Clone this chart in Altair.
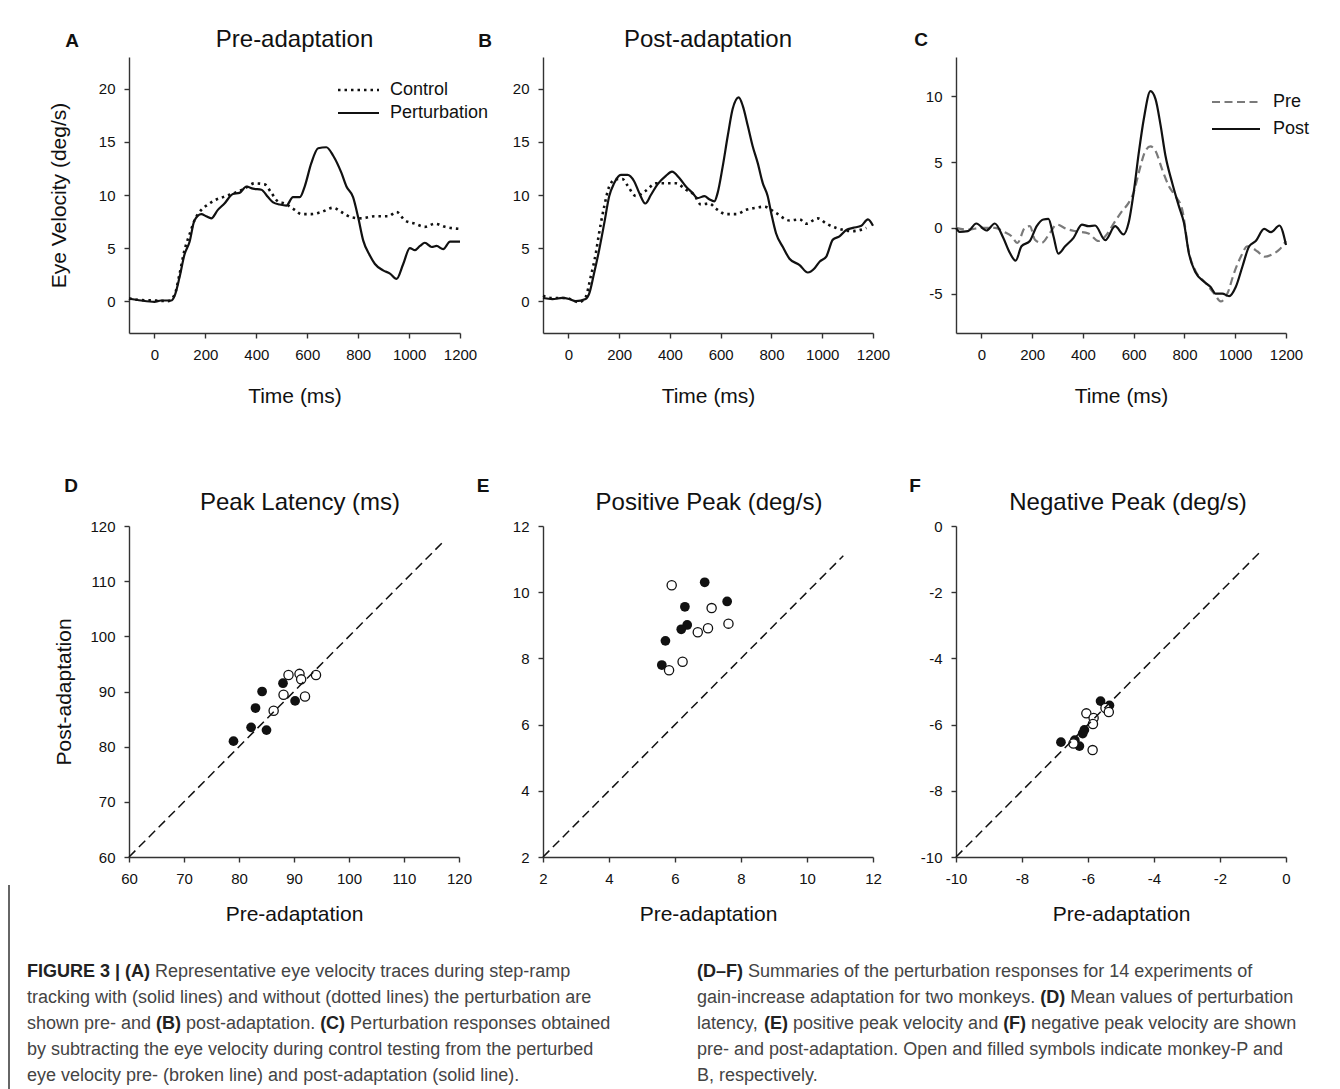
import altair as alt
import pandas as pd

FONT = "Liberation Sans"

# ---------------- data: panel A (pre-adaptation) ----------------
a_pert_t = [-100, -52, 0, 26, 66, 79, 98, 118, 138, 157, 184, 203, 223, 249, 275, 308, 334, 361, 387, 420,
            446, 466, 492, 518, 544, 571, 590, 616, 643, 675, 702, 734, 754, 780, 800, 820, 846, 866, 898, 925,
            951, 977, 1003, 1023, 1043, 1062, 1089, 1108, 1134, 1161, 1200]
a_pert_v = [0.25, 0.06, -0.06, 0.06, 0.06, 0.5, 2.2, 4.4, 5.6, 7.6, 8.2, 8.0, 7.8, 8.6, 9.2, 10.1, 10.2, 10.8, 10.6, 10.5,
            9.8, 9.3, 9.1, 9.0, 9.8, 9.8, 10.8, 13.0, 14.4, 14.5, 13.7, 12.1, 10.8, 9.8, 7.9, 5.7, 4.3, 3.5, 2.9, 2.6,
            2.1, 3.5, 5.0, 4.8, 5.2, 5.5, 5.1, 5.2, 4.9, 5.6, 5.6]
a_ctrl_t = [-100, -52, 0, 52, 79, 98, 118, 138, 157, 184, 210, 236, 269, 315, 354, 393, 433, 459, 485, 511,
            551, 577, 616, 656, 702, 734, 774, 813, 866, 918, 951, 984, 1023, 1062, 1102, 1141, 1200]
a_ctrl_v = [0.25, 0.1, 0.06, 0.0, 0.6, 2.5, 4.8, 6.3, 7.6, 8.6, 9.1, 9.5, 9.8, 10.2, 10.6, 11.1, 11.0, 10.2, 9.4, 9.2,
            8.6, 8.2, 8.2, 8.4, 8.8, 8.4, 7.9, 7.8, 8.0, 8.0, 8.4, 7.6, 7.3, 7.0, 7.3, 7.0, 6.8]

# ---------------- data: panel B (post-adaptation) ----------------
b_pert_t = [-100, -63, -24, 3, 29, 68, 82, 101, 121, 141, 161, 180, 207, 233, 259, 279, 303, 325, 351, 384,
            408, 437, 463, 489, 509, 536, 555, 575, 588, 608, 628, 647, 671, 687, 707, 726, 746, 766, 785, 799,
            818, 845, 871, 911, 943, 970, 989, 1016, 1042, 1068, 1095, 1121, 1154, 1180, 1200]
b_pert_v = [0.3, 0.2, 0.3, 0.2, 0.0, 0.2, 0.7, 2.6, 4.8, 7.3, 9.9, 11.1, 11.9, 11.9, 11.3, 10.2, 9.2, 10.0, 11.0, 11.8,
            12.2, 11.6, 10.8, 10.2, 9.7, 9.9, 9.6, 9.4, 10.2, 12.7, 15.6, 18.1, 19.2, 18.4, 16.5, 14.6, 13.0, 11.1, 9.9, 8.3,
            6.4, 5.1, 4.0, 3.4, 2.7, 3.1, 3.7, 4.2, 5.8, 6.1, 6.7, 6.9, 7.1, 7.7, 7.1]
b_ctrl_t = [-100, -63, -11, 42, 68, 88, 108, 121, 141, 161, 187, 213, 233, 266, 305, 345, 384, 424, 463, 496,
            522, 555, 582, 621, 661, 700, 739, 772, 818, 871, 911, 937, 983, 1016, 1055, 1121, 1174]
b_ctrl_v = [0.5, 0.3, 0.3, -0.1, 0.4, 2.3, 4.5, 6.4, 8.9, 10.8, 11.5, 11.5, 10.9, 9.9, 10.4, 11.1, 11.1, 11.1, 10.5, 10.0,
            9.1, 9.2, 8.7, 8.2, 8.2, 8.6, 8.8, 8.9, 8.3, 7.6, 7.7, 7.3, 7.8, 7.3, 6.9, 6.6, 6.9]

# ---------------- data: panel C (difference) ----------------
c_post_t = [-100, -86, -53, -20, 20, 53, 86, 112, 135, 158, 191, 218, 244, 264, 284, 303, 330, 363, 396, 422,
            448, 488, 527, 560, 580, 600, 620, 640, 666, 686, 706, 725, 752, 778, 798, 818, 844, 877, 903, 923,
            949, 976, 1002, 1029, 1055, 1081, 1114, 1141, 1174, 1200]
c_post_v = [0.0, -0.3, -0.25, 0.33, -0.2, 0.33, -0.76, -1.9, -2.5, -1.4, -1.0, 0.13, 0.64, 0.69, -0.64, -1.96, -1.4, -0.76, 0.25, 0.13,
            0.18, -0.94, 0.13, -0.5, 0.38, 2.7, 5.7, 8.3, 10.4, 9.8, 7.8, 5.5, 3.4, 1.65, 0.38, -2.0, -3.4, -4.1, -4.5, -5.0,
            -5.0, -5.2, -4.5, -2.9, -1.4, -1.0, -0.08, -0.33, 0.18, -1.3]
c_pre_t = [-100, -53, 0, 53, 92, 119, 142, 171, 191, 211, 237, 270, 297, 336, 369, 422, 462, 488, 527, 554,
           580, 600, 620, 646, 666, 686, 712, 738, 765, 791, 818, 844, 884, 917, 943, 969, 996, 1022, 1048, 1088,
           1114, 1147, 1174, 1200]
c_pre_v = [0.0, -0.13, 0.0, 0.0, -0.33, -0.64, -1.15, 0.0, 0.13, -0.9, -1.15, -0.38, 0.25, -0.08, -0.25, -0.43, -1.0, -0.64, 0.5, 1.27,
           1.9, 2.7, 4.2, 5.85, 6.2, 5.85, 4.45, 3.2, 2.4, 1.4, -1.9, -3.3, -4.2, -5.0, -5.6, -5.0, -3.4, -2.2, -1.4, -1.8,
           -2.2, -2.0, -1.65, -1.0]

# ---------------- data: scatter panels (monkey-B filled, monkey-P open) ----------------
d_filled_x = [79.0, 82.2, 83.0, 84.2, 85.0, 88.0, 90.2]
d_filled_y = [81.0, 83.5, 87.0, 90.0, 83.0, 91.5, 88.3]
d_open_x = [86.3, 88.1, 89.0, 91.0, 91.3, 94.0, 92.0]
d_open_y = [86.5, 89.4, 93.0, 93.2, 92.2, 93.0, 89.1]
d_diag = [60, 117]

e_filled_x = [6.9, 7.58, 6.3, 6.37, 6.19, 5.71, 5.6]
e_filled_y = [10.3, 9.72, 9.56, 9.01, 8.88, 8.53, 7.8]
e_open_x = [5.9, 7.11, 7.62, 7.0, 6.69, 6.23, 5.82]
e_open_y = [10.21, 9.52, 9.05, 8.91, 8.79, 7.9, 7.64]
e_diag = [2, 11.1]

f_filled_x = [-6.82, -6.40, -6.26, -6.16, -6.11, -5.62, -5.35]
f_filled_y = [-6.53, -6.47, -6.65, -6.27, -6.16, -5.29, -5.42]
f_open_x = [-6.44, -6.05, -5.83, -5.85, -5.86, -5.47, -5.37]
f_open_y = [-6.57, -5.66, -5.80, -5.98, -6.77, -5.50, -5.62]
f_diag = [-10, -0.8]

time_ticks = [0, 200, 400, 600, 800, 1000, 1200]

# ---------------- caption text ----------------
caption_left = [
    [("FIGURE 3 | (A)", True), (" Representative eye velocity traces during step-ramp", False)],
    [("tracking with (solid lines) and without (dotted lines) the perturbation are", False)],
    [("shown pre- and ", False), ("(B)", True), (" post-adaptation. ", False), ("(C)", True),
     (" Perturbation responses obtained", False)],
    [("by subtracting the eye velocity during control testing from the perturbed", False)],
    [("eye velocity pre- (broken line) and post-adaptation (solid line).", False)],
]
caption_right = [
    [("(D\u2013F)", True), (" Summaries of the perturbation responses for 14 experiments of", False)],
    [("gain-increase adaptation for two monkeys. ", False), ("(D)", True), (" Mean values of perturbation", False)],
    [("latency, ", False), ("(E)", True), (" positive peak velocity and ", False), ("(F)", True),
     (" negative peak velocity are shown", False)],
    [("pre- and post-adaptation. Open and filled symbols indicate monkey-P and", False)],
    [("B, respectively.", False)],
]

# ---------------- layout helpers ----------------
AXIS_COMMON = dict(domainColor="#333333", domainWidth=1.4, tickColor="#333333", tickWidth=1.4, tickSize=5,
                   labelFont=FONT, labelFontSize=15, labelColor="#111111", labelPadding=9, grid=False,
                   labelExpr="datum.value + ''", labelOverlap=False, labelFlush=False,
                   titleFont=FONT, titleFontSize=21, titleFontWeight="normal", titleColor="#111111")


def txt(label, x, y, size, bold=False, align="center", color="#111111"):
    return alt.Chart(pd.DataFrame({"label": [label]})).mark_text(
        font=FONT, fontSize=size, fontWeight="bold" if bold else "normal",
        align=align, baseline="middle", color=color
    ).encode(x=alt.value(x), y=alt.value(y), text="label:N")


def legend_line(x1, x2, y, **style):
    return alt.Chart(pd.DataFrame({"k": [0]})).mark_rule(**style).encode(
        x=alt.value(x1), x2=alt.value(x2), y=alt.value(y))


def xs_time(title_y):
    return alt.X("t:Q", scale=alt.Scale(domain=[-100, 1200], nice=False, zero=False),
                 axis=alt.Axis(values=time_ticks, title="Time (ms)", titleY=title_y,
                               titleBaseline="middle", **AXIS_COMMON))


def ys(domain, ticks, title, title_x):
    if title:
        ax = alt.Axis(values=ticks, title=title, titleX=title_x, titleBaseline="middle", **AXIS_COMMON)
    else:
        ax = alt.Axis(values=ticks, title=None, **AXIS_COMMON)
    return alt.Y("v:Q", scale=alt.Scale(domain=domain, nice=False, zero=False), axis=ax)


DOT = dict(strokeDash=[2.5, 4], strokeWidth=2.6, color="#111111")
SOLID = dict(strokeWidth=2.2, color="#111111")
GRAYDASH = dict(strokeDash=[8, 4.5], strokeWidth=2.2, color="#7a7a7a")

W1, H1 = 331, 276
W2, H2 = 330, 331


def series(t, v, style, x_enc, y_enc):
    return alt.Chart(pd.DataFrame({"t": t, "v": v})).mark_line(interpolate="monotone", **style).encode(
        x=x_enc, y=y_enc)


# Panel A
xa = xs_time(63)
ya = ys([-3, 23], [0, 5, 10, 15, 20], "Eye Velocity (deg/s)", -70)
panel_a = alt.layer(
    series(a_ctrl_t, a_ctrl_v, DOT, xa, ya),
    series(a_pert_t, a_pert_v, SOLID, xa, ya),
    legend_line(209, 250, 33, **DOT),
    legend_line(209, 250, 56, **SOLID),
    txt("Control", 261, 33, 18, align="left"),
    txt("Perturbation", 261, 56, 18, align="left"),
    txt("A", -57, -16, 19, bold=True),
    txt("Pre-adaptation", W1 / 2, -17, 24),
).properties(width=W1, height=H1)

# Panel B
xb = xs_time(63)
yb = ys([-3, 23], [0, 5, 10, 15, 20], None, 0)
panel_b = alt.layer(
    series(b_ctrl_t, b_ctrl_v, DOT, xb, yb),
    series(b_pert_t, b_pert_v, SOLID, xb, yb),
    txt("B", -58, -16, 19, bold=True),
    txt("Post-adaptation", 165, -17, 24),
).properties(width=330, height=H1)

# Panel C
xc = xs_time(63)
yc = ys([-8, 13], [-5, 0, 5, 10], None, 0)
panel_c = alt.layer(
    series(c_pre_t, c_pre_v, GRAYDASH, xc, yc),
    series(c_post_t, c_post_v, SOLID, xc, yc),
    legend_line(256, 304, 45, **GRAYDASH),
    legend_line(256, 304, 72, **SOLID),
    txt("Pre", 317, 45, 18, align="left"),
    txt("Post", 317, 72, 18, align="left"),
    txt("C", -35, -17, 19, bold=True),
).properties(width=330, height=H1)


def scatter(fx, fy, ox, oy, diag, domain, ticks, ytitle, letter, letter_dx, title, title_dx):
    sx = alt.Scale(domain=domain, nice=False, zero=False)
    x_enc = alt.X("x:Q", scale=sx, axis=alt.Axis(values=ticks, title="Pre-adaptation", titleY=57,
                                                   titleBaseline="middle", **AXIS_COMMON))
    if ytitle:
        yax = alt.Axis(values=ticks, title=ytitle, titleX=-65, titleBaseline="middle", **AXIS_COMMON)
    else:
        yax = alt.Axis(values=ticks, title=None, **AXIS_COMMON)
    y_enc = alt.Y("y:Q", scale=sx, axis=yax)
    filled = alt.Chart(pd.DataFrame({"x": fx, "y": fy})).mark_point(
        shape="circle", filled=True, size=95, color="#111111", opacity=1).encode(x=x_enc, y=y_enc)
    opened = alt.Chart(pd.DataFrame({"x": ox, "y": oy})).mark_point(
        shape="circle", filled=True, size=85, fill="white", stroke="#111111", strokeWidth=1.3,
        opacity=1).encode(x=x_enc, y=y_enc)
    line = alt.Chart(pd.DataFrame({"x": diag, "y": diag})).mark_line(
        strokeDash=[9, 5], strokeWidth=1.5, color="#111111").encode(x=x_enc, y=y_enc)
    return alt.layer(
        filled, opened, line,
        txt(letter, letter_dx, -40, 19, bold=True),
        txt(title, W2 / 2 + title_dx, -23, 24),
    ).properties(width=W2, height=H2)


panel_d = scatter(d_filled_x, d_filled_y, d_open_x, d_open_y, d_diag, [60, 120],
                  [60, 70, 80, 90, 100, 110, 120], "Post-adaptation", "D", -58, "Peak Latency (ms)", 6)
panel_e = scatter(e_filled_x, e_filled_y, e_open_x, e_open_y, e_diag, [2, 12],
                  [2, 4, 6, 8, 10, 12], None, "E", -60, "Positive Peak (deg/s)", 1)
panel_f = scatter(f_filled_x, f_filled_y, f_open_x, f_open_y, f_diag, [-10, 0],
                  [-10, -8, -6, -4, -2, 0], None, "F", -41, "Negative Peak (deg/s)", 7)

# ---------------- caption ----------------
REG = {' ': 278, '(': 333, ')': 333, ',': 278, '-': 333, '.': 278, '/': 278, '|': 260, '\u2013': 556,
       'A': 667, 'B': 667, 'C': 722, 'D': 722, 'E': 667, 'F': 611, 'G': 778, 'I': 278, 'M': 833, 'O': 778,
       'P': 667, 'R': 722, 'S': 667, 'T': 611, 'U': 722,
       'a': 556, 'b': 556, 'c': 500, 'd': 556, 'e': 556, 'f': 278, 'g': 556, 'h': 556, 'i': 222, 'j': 222,
       'k': 500, 'l': 222, 'm': 833, 'n': 556, 'o': 556, 'p': 556, 'q': 556, 'r': 333, 's': 500, 't': 278,
       'u': 556, 'v': 500, 'w': 722, 'x': 500, 'y': 500, 'z': 500}
BLD = {' ': 278, '(': 333, ')': 333, '|': 280, '\u2013': 556, 'A': 722, 'B': 722, 'C': 722, 'D': 722,
       'E': 667, 'F': 611, 'G': 778, 'I': 278, 'R': 722, 'U': 722}
CAP_SIZE = 18


def width_of(s, bold):
    table = BLD if bold else REG
    return sum(table.get(ch, 556) for ch in s) / 1000.0 * CAP_SIZE


def caption_rows(lines, x0, y0, dy):
    rows = []
    for i, segs in enumerate(lines):
        x = x0
        for s, bold in segs:
            lead = len(s) - len(s.lstrip(' '))
            x += width_of(' ' * lead, bold)
            core = s.strip(' ')
            rows.append({"x": x, "y": y0 + i * dy, "text": core, "bold": bold})
            x += width_of(core, bold)
            trail = len(s) - len(s.rstrip(' '))
            x += width_of(' ' * trail, bold)
    return rows


# caption cell sits at page y ~1050 (row spacing below panel D); text drawn relative to it
cap_df = pd.DataFrame(caption_rows(caption_left, -102, -78, 26) + caption_rows(caption_right, 568, -78, 26))
cap_norm = alt.Chart(cap_df).transform_filter("!datum.bold").mark_text(
    font=FONT, fontSize=CAP_SIZE, align="left", baseline="middle", color="#444444"
).encode(x=alt.X("x:Q", scale=None), y=alt.Y("y:Q", scale=None), text="text:N")
cap_bold = alt.Chart(cap_df).transform_filter("datum.bold").mark_text(
    font=FONT, fontSize=CAP_SIZE, fontWeight="bold", align="left", baseline="middle", color="#222222"
).encode(x=alt.X("x:Q", scale=None), y=alt.Y("y:Q", scale=None), text="text:N")
cap_rule = alt.Chart(pd.DataFrame({"k": [0]})).mark_rule(color="#333333", strokeWidth=1.5).encode(
    x=alt.value(-120), y=alt.value(-165), y2=alt.value(39))
caption = alt.layer(cap_rule, cap_norm, cap_bold).properties(width=W1, height=39)

chart = alt.concat(
    panel_a, panel_b, panel_c, panel_d, panel_e, panel_f, caption,
    columns=3, spacing={"row": 193, "column": 83}, bounds="flush", align="each"
).properties(
    padding={"left": 0, "top": 20, "right": 5, "bottom": 0}
).configure_view(stroke=None)

chart.save("out.html", embed_options={"renderer": "svg", "actions": False})
